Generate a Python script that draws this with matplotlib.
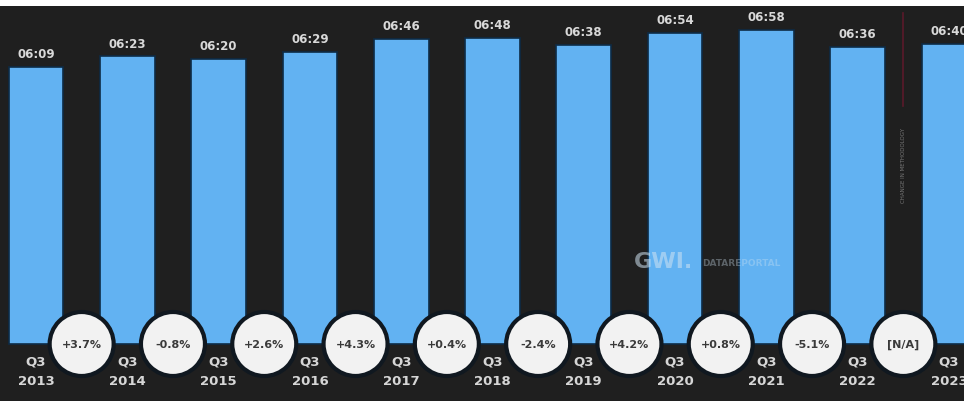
import matplotlib
matplotlib.use("Agg")
import matplotlib.pyplot as plt
from matplotlib.patches import Ellipse

years = ["2013", "2014", "2015", "2016", "2017", "2018", "2019", "2020", "2021", "2022", "2023"]
minutes = [369, 383, 380, 389, 406, 408, 398, 414, 418, 396, 400]
changes = ["+3.7%", "-0.8%", "+2.6%", "+4.3%", "+0.4%", "-2.4%", "+4.2%", "+0.8%", "-5.1%", "[N/A]"]

def fmt(m):
    return f"{m // 60:02d}:{m % 60:02d}"

W, H = 964, 402
fig = plt.figure(figsize=(W / 100, H / 100), dpi=100, facecolor="white")
ax = fig.add_axes([0, 0, 1, 395 / H])
bg = "#1f1f1f"
ax.set_facecolor(bg)

pxmin = 0.7507  # pixels per data unit (y)
pxx = 91.3      # pixels per category
ax.set_xlim(-36 / pxx, (W - 36) / pxx)
ax.set_ylim(-57 / pxmin, 338 / pxmin)
for s in ax.spines.values():
    s.set_visible(False)
ax.set_xticks([])
ax.set_yticks([])

x = list(range(len(years)))
ax.bar(x, minutes, width=0.60, color="#62b2f2", edgecolor="#0d2b45", linewidth=1.2, zorder=2)

for xi, m in zip(x, minutes):
    ax.annotate(fmt(m), (xi, m), xytext=(0, 5), textcoords="offset points",
                ha="center", va="bottom", color="#d9d9d9", fontsize=8.5, fontweight="bold",
                family=["Liberation Sans Narrow", "DejaVu Sans"], zorder=5)
    ax.text(xi, -23, "Q3", ha="center", va="center", color="#d6d6d6",
            fontsize=9.5, fontweight="bold", zorder=5)
    ax.text(xi, -48, years[xi], ha="center", va="center", color="#d6d6d6",
            fontsize=9.5, fontweight="bold", zorder=5)

for i, c in enumerate(changes):
    cx = i + 0.5
    e = Ellipse((cx, 0), width=64 / pxx, height=64 / pxmin, facecolor="#f2f2f2",
                edgecolor="#101820", linewidth=3, zorder=6, clip_on=False)
    ax.add_patch(e)
    ax.text(cx, 0, c, ha="center", va="center", color="#3a3a3a", fontsize=8,
            fontweight="bold", zorder=7)

# methodology divider
ax.plot([9.5, 9.5], [(338 - 7) / pxmin, (338 - 100) / pxmin], color="#5a1a2a", linewidth=1.2, zorder=3)
ax.text(9.5, (338 - 158) / pxmin, "CHANGE IN METHODOLOGY", rotation=90, ha="center", va="center",
        color="#777777", fontsize=4, zorder=3)

# watermark
ax.text(6.55, 110, "GWI.", ha="left", va="center", color="#cfe3f2", alpha=0.55,
        fontsize=16, fontweight="bold", zorder=4)
ax.text(7.3, 108, "DATAREPORTAL", ha="left", va="center", color="#cfe3f2", alpha=0.35,
        fontsize=6.5, fontweight="bold", zorder=4)

fig.savefig("out.png", dpi=100, facecolor="white")
